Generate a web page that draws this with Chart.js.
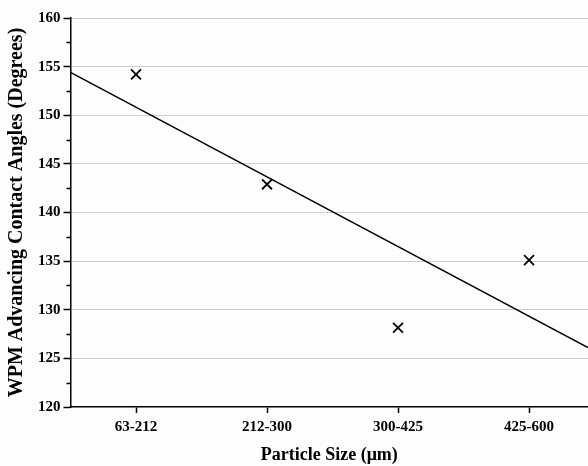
<!DOCTYPE html>
<html>
<head>
<meta charset="utf-8">
<script src="https://cdn.jsdelivr.net/npm/chart.js@4.4.1/dist/chart.umd.min.js"></script>
<style>
  html, body { margin: 0; padding: 0; background: #fdfdfd; overflow: hidden; }
  #wrap { width: 588px; height: 466px; position: relative; }
  canvas { display: block; }
</style>
</head>
<body>
<div id="wrap"><canvas id="chart"></canvas></div>
<script>
// ===============================
// DATA
// ===============================
const categories = ["63-212", "212-300", "300-425", "425-600"];
const contactAngles = [154.2, 142.9, 128.15, 135.1];

// fitted line, read at the left and right edges of the plot
const fitX = [-0.5, 3.45];
const fitY = [154.4, 126.1];

const yTicks = [120, 125, 130, 135, 140, 145, 150, 155, 160];

const FONT = "'Liberation Serif', 'Times New Roman', serif";

// ===============================
// MINOR Y TICKS (half steps)
// ===============================
const minorTicks = {
  id: "minorTicks",
  afterDraw(chart) {
    const y = chart.scales.y;
    const ctx = chart.ctx;
    ctx.save();
    ctx.strokeStyle = "#000";
    ctx.lineWidth = 1.5;
    for (let i = 0; i < yTicks.length - 1; i++) {
      const v = (yTicks[i] + yTicks[i + 1]) / 2;
      const py = Math.round(y.getPixelForValue(v)) + 0.5;
      ctx.beginPath();
      ctx.moveTo(y.right - 4, py);
      ctx.lineTo(y.right, py);
      ctx.stroke();
    }
    ctx.restore();
  }
};

// ===============================
// CHART
// ===============================
new Chart(document.getElementById("chart"), {
  type: "scatter",
  data: {
    datasets: [
      {
        label: "Contact angle",
        data: contactAngles.map((v, i) => ({ x: i, y: v })),
        pointStyle: "crossRot",
        pointRadius: 7,
        pointBorderWidth: 1.8,
        borderColor: "#000",
        backgroundColor: "#000"
      },
      {
        type: "line",
        label: "Fit",
        data: fitX.map((x, i) => ({ x, y: fitY[i] })),
        borderColor: "#000",
        borderWidth: 1.5,
        pointRadius: 0,
        fill: false
      }
    ]
  },
  options: {
    responsive: true,
    maintainAspectRatio: false,
    animation: false,
    layout: {
      autoPadding: false,
      padding: { top: 18, right: 0, left: 0, bottom: 0 }
    },
    plugins: {
      legend: { display: false },
      tooltip: { enabled: false }
    },
    scales: {
      x: {
        type: "linear",
        min: fitX[0],
        max: fitX[1],
        afterBuildTicks(scale) {
          scale.ticks = categories.map((c, i) => ({ value: i }));
        },
        afterFit(scale) {
          scale.height = 59;
        },
        ticks: {
          callback: v => categories[v],
          color: "#000",
          font: { family: FONT, size: 15, weight: "bold" },
          padding: 5,
          maxRotation: 0
        },
        grid: {
          drawOnChartArea: false,
          drawTicks: true,
          tickLength: 6,
          tickColor: "#000",
          tickWidth: 1.5
        },
        border: { color: "#000", width: 1.5 },
        title: {
          display: true,
          text: "Particle Size (μm)",
          color: "#000",
          font: { family: FONT, size: 18, weight: "bold" },
          padding: { top: 4, bottom: 0 }
        }
      },
      y: {
        min: 120,
        max: 160,
        afterBuildTicks(scale) {
          scale.ticks = yTicks.map(v => ({ value: v }));
        },
        ticks: {
          color: "#000",
          font: { family: FONT, size: 15, weight: "bold" },
          padding: 3
        },
        grid: {
          color: ctx => (ctx.tick && ctx.tick.value > 120 ? "#a0a0a0" : "rgba(0,0,0,0)"),
          lineWidth: 1,
          drawTicks: true,
          tickLength: 7,
          tickColor: "#000",
          tickWidth: 1.5
        },
        border: { color: "#000", width: 1.5, dash: [1, 1] },
        title: {
          display: true,
          text: "WPM Advancing Contact Angles (Degrees)",
          color: "#000",
          font: { family: FONT, size: 20, weight: "bold" },
          padding: { top: 5, bottom: 6 }
        }
      }
    }
  },
  plugins: [minorTicks]
});
</script>
</body>
</html>
